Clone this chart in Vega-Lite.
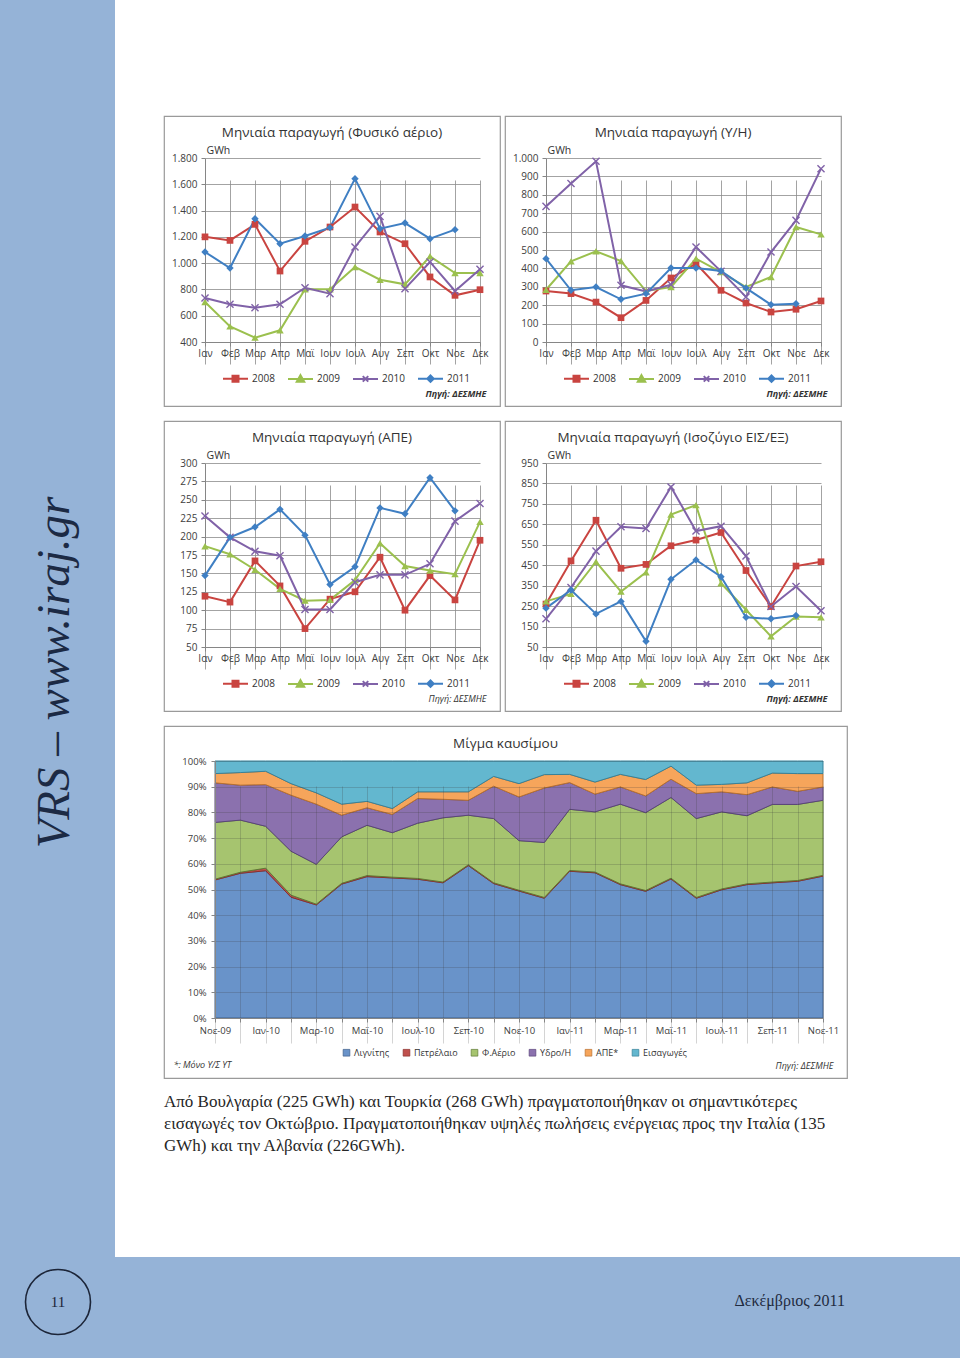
{
  "$schema": "https://vega.github.io/schema/vega-lite/v6.json",
  "padding": 0,
  "background": "white",
  "spacing": 0,
  "resolve": {"scale": {"color": "independent", "stroke": "independent"}, "legend": {"color": "independent"}},
  "config": {
    "locale": {"number": {"decimal": ",", "thousands": ".", "grouping": [3], "currency": ["", "€"]}},
    "view": {"stroke": null},
    "font": "Open Sans",
    "title": {"font": "Open Sans", "fontSize": 13.5, "fontWeight": "normal", "color": "#333333", "offset": -23, "baseline": "alphabetic", "frame": "group", "anchor": "middle"},
    "axis": {"labelFont": "Open Sans", "labelFontSize": 10, "labelColor": "#404040", "domainColor": "#868686", "tickColor": "#868686", "tickSize": 4, "gridColor": "#8c8c8c", "gridWidth": 0.8, "titleFont": "Open Sans", "titleFontWeight": "normal", "titleColor": "#333333", "titleFontSize": 10.5},
    "axisX": {"labelPadding": 2, "labelAngle": 0},
    "axisY": {"labelPadding": 4},
    "legend": {"labelFont": "Open Sans", "labelFontSize": 10, "labelColor": "#333333"}
  },
  "datasets": {
    "gas": [
      {"month":"Ιαν","year":"2008","v":1200},{"month":"Φεβ","year":"2008","v":1173},{"month":"Μαρ","year":"2008","v":1295},{"month":"Απρ","year":"2008","v":940},{"month":"Μαϊ","year":"2008","v":1166},{"month":"Ιουν","year":"2008","v":1275},{"month":"Ιουλ","year":"2008","v":1427},{"month":"Αυγ","year":"2008","v":1237},{"month":"Σεπ","year":"2008","v":1148},{"month":"Οκτ","year":"2008","v":895},{"month":"Νοε","year":"2008","v":755},{"month":"Δεκ","year":"2008","v":798},
      {"month":"Ιαν","year":"2009","v":704},{"month":"Φεβ","year":"2009","v":519},{"month":"Μαρ","year":"2009","v":433},{"month":"Απρ","year":"2009","v":489},{"month":"Μαϊ","year":"2009","v":801},{"month":"Ιουν","year":"2009","v":801},{"month":"Ιουλ","year":"2009","v":971},{"month":"Αυγ","year":"2009","v":874},{"month":"Σεπ","year":"2009","v":839},{"month":"Οκτ","year":"2009","v":1052},{"month":"Νοε","year":"2009","v":925},{"month":"Δεκ","year":"2009","v":925},
      {"month":"Ιαν","year":"2010","v":735},{"month":"Φεβ","year":"2010","v":687},{"month":"Μαρ","year":"2010","v":661},{"month":"Απρ","year":"2010","v":687},{"month":"Μαϊ","year":"2010","v":813},{"month":"Ιουν","year":"2010","v":768},{"month":"Ιουλ","year":"2010","v":1123},{"month":"Αυγ","year":"2010","v":1356},{"month":"Σεπ","year":"2010","v":806},{"month":"Οκτ","year":"2010","v":1009},{"month":"Νοε","year":"2010","v":788},{"month":"Δεκ","year":"2010","v":953},
      {"month":"Ιαν","year":"2011","v":1085},{"month":"Φεβ","year":"2011","v":963},{"month":"Μαρ","year":"2011","v":1338},{"month":"Απρ","year":"2011","v":1148},{"month":"Μαϊ","year":"2011","v":1207},{"month":"Ιουν","year":"2011","v":1270},{"month":"Ιουλ","year":"2011","v":1643},{"month":"Αυγ","year":"2011","v":1262},{"month":"Σεπ","year":"2011","v":1305},{"month":"Οκτ","year":"2011","v":1186},{"month":"Νοε","year":"2011","v":1255}
    ],
    "hydro": [
      {"month":"Ιαν","year":"2008","v":277},{"month":"Φεβ","year":"2008","v":263},{"month":"Μαρ","year":"2008","v":217},{"month":"Απρ","year":"2008","v":132},{"month":"Μαϊ","year":"2008","v":226},{"month":"Ιουν","year":"2008","v":348},{"month":"Ιουλ","year":"2008","v":426},{"month":"Αυγ","year":"2008","v":281},{"month":"Σεπ","year":"2008","v":212},{"month":"Οκτ","year":"2008","v":163},{"month":"Νοε","year":"2008","v":178},{"month":"Δεκ","year":"2008","v":223},
      {"month":"Ιαν","year":"2009","v":284},{"month":"Φεβ","year":"2009","v":438},{"month":"Μαρ","year":"2009","v":493},{"month":"Απρ","year":"2009","v":440},{"month":"Μαϊ","year":"2009","v":277},{"month":"Ιουν","year":"2009","v":299},{"month":"Ιουλ","year":"2009","v":453},{"month":"Αυγ","year":"2009","v":380},{"month":"Σεπ","year":"2009","v":299},{"month":"Οκτ","year":"2009","v":353},{"month":"Νοε","year":"2009","v":625},{"month":"Δεκ","year":"2009","v":585},
      {"month":"Ιαν","year":"2010","v":737},{"month":"Φεβ","year":"2010","v":861},{"month":"Μαρ","year":"2010","v":982},{"month":"Απρ","year":"2010","v":308},{"month":"Μαϊ","year":"2010","v":275},{"month":"Ιουν","year":"2010","v":312},{"month":"Ιουλ","year":"2010","v":516},{"month":"Αυγ","year":"2010","v":384},{"month":"Σεπ","year":"2010","v":245},{"month":"Οκτ","year":"2010","v":489},{"month":"Νοε","year":"2010","v":661},{"month":"Δεκ","year":"2010","v":942},
      {"month":"Ιαν","year":"2011","v":453},{"month":"Φεβ","year":"2011","v":281},{"month":"Μαρ","year":"2011","v":299},{"month":"Απρ","year":"2011","v":232},{"month":"Μαϊ","year":"2011","v":263},{"month":"Ιουν","year":"2011","v":402},{"month":"Ιουλ","year":"2011","v":402},{"month":"Αυγ","year":"2011","v":386},{"month":"Σεπ","year":"2011","v":293},{"month":"Οκτ","year":"2011","v":203},{"month":"Νοε","year":"2011","v":208}
    ],
    "res": [
      {"month":"Ιαν","year":"2008","v":119},{"month":"Φεβ","year":"2008","v":111},{"month":"Μαρ","year":"2008","v":167},{"month":"Απρ","year":"2008","v":133},{"month":"Μαϊ","year":"2008","v":75},{"month":"Ιουν","year":"2008","v":115},{"month":"Ιουλ","year":"2008","v":125},{"month":"Αυγ","year":"2008","v":172},{"month":"Σεπ","year":"2008","v":100},{"month":"Οκτ","year":"2008","v":147},{"month":"Νοε","year":"2008","v":114},{"month":"Δεκ","year":"2008","v":195},
      {"month":"Ιαν","year":"2009","v":187},{"month":"Φεβ","year":"2009","v":176},{"month":"Μαρ","year":"2009","v":155},{"month":"Απρ","year":"2009","v":129},{"month":"Μαϊ","year":"2009","v":113},{"month":"Ιουν","year":"2009","v":114},{"month":"Ιουλ","year":"2009","v":141},{"month":"Αυγ","year":"2009","v":191},{"month":"Σεπ","year":"2009","v":160},{"month":"Οκτ","year":"2009","v":154},{"month":"Νοε","year":"2009","v":149},{"month":"Δεκ","year":"2009","v":220},
      {"month":"Ιαν","year":"2010","v":228},{"month":"Φεβ","year":"2010","v":199},{"month":"Μαρ","year":"2010","v":180},{"month":"Απρ","year":"2010","v":174},{"month":"Μαϊ","year":"2010","v":101},{"month":"Ιουν","year":"2010","v":101},{"month":"Ιουλ","year":"2010","v":138},{"month":"Αυγ","year":"2010","v":148},{"month":"Σεπ","year":"2010","v":148},{"month":"Οκτ","year":"2010","v":163},{"month":"Νοε","year":"2010","v":221},{"month":"Δεκ","year":"2010","v":245},
      {"month":"Ιαν","year":"2011","v":147},{"month":"Φεβ","year":"2011","v":199},{"month":"Μαρ","year":"2011","v":213},{"month":"Απρ","year":"2011","v":237},{"month":"Μαϊ","year":"2011","v":202},{"month":"Ιουν","year":"2011","v":135},{"month":"Ιουλ","year":"2011","v":159},{"month":"Αυγ","year":"2011","v":239},{"month":"Σεπ","year":"2011","v":231},{"month":"Οκτ","year":"2011","v":280},{"month":"Νοε","year":"2011","v":235}
    ],
    "inter": [
      {"month":"Ιαν","year":"2008","v":260},{"month":"Φεβ","year":"2008","v":471},{"month":"Μαρ","year":"2008","v":670},{"month":"Απρ","year":"2008","v":435},{"month":"Μαϊ","year":"2008","v":454},{"month":"Ιουν","year":"2008","v":545},{"month":"Ιουλ","year":"2008","v":573},{"month":"Αυγ","year":"2008","v":610},{"month":"Σεπ","year":"2008","v":424},{"month":"Οκτ","year":"2008","v":248},{"month":"Νοε","year":"2008","v":446},{"month":"Δεκ","year":"2008","v":467},
      {"month":"Ιαν","year":"2009","v":273},{"month":"Φεβ","year":"2009","v":310},{"month":"Μαρ","year":"2009","v":467},{"month":"Απρ","year":"2009","v":321},{"month":"Μαϊ","year":"2009","v":415},{"month":"Ιουν","year":"2009","v":698},{"month":"Ιουλ","year":"2009","v":744},{"month":"Αυγ","year":"2009","v":362},{"month":"Σεπ","year":"2009","v":232},{"month":"Οκτ","year":"2009","v":102},{"month":"Νοε","year":"2009","v":199},{"month":"Δεκ","year":"2009","v":195},
      {"month":"Ιαν","year":"2010","v":188},{"month":"Φεβ","year":"2010","v":341},{"month":"Μαρ","year":"2010","v":519},{"month":"Απρ","year":"2010","v":638},{"month":"Μαϊ","year":"2010","v":630},{"month":"Ιουν","year":"2010","v":833},{"month":"Ιουλ","year":"2010","v":617},{"month":"Αυγ","year":"2010","v":641},{"month":"Σεπ","year":"2010","v":495},{"month":"Οκτ","year":"2010","v":248},{"month":"Νοε","year":"2010","v":346},{"month":"Δεκ","year":"2010","v":227},
      {"month":"Ιαν","year":"2011","v":240},{"month":"Φεβ","year":"2011","v":329},{"month":"Μαρ","year":"2011","v":212},{"month":"Απρ","year":"2011","v":273},{"month":"Μαϊ","year":"2011","v":78},{"month":"Ιουν","year":"2011","v":381},{"month":"Ιουλ","year":"2011","v":476},{"month":"Αυγ","year":"2011","v":394},{"month":"Σεπ","year":"2011","v":195},{"month":"Οκτ","year":"2011","v":188},{"month":"Νοε","year":"2011","v":204}
    ],
    "mix": [
      {"month":"Νοε-09","fuel":"Λιγνίτης","k":1,"v":53.7},{"month":"Δεκ-09","fuel":"Λιγνίτης","k":1,"v":56.3},{"month":"Ιαν-10","fuel":"Λιγνίτης","k":1,"v":57.3},{"month":"Φεβ-10","fuel":"Λιγνίτης","k":1,"v":47.0},{"month":"Μαρ-10","fuel":"Λιγνίτης","k":1,"v":44.0},{"month":"Απρ-10","fuel":"Λιγνίτης","k":1,"v":52.1},{"month":"Μαϊ-10","fuel":"Λιγνίτης","k":1,"v":55.0},{"month":"Ιουν-10","fuel":"Λιγνίτης","k":1,"v":54.5},{"month":"Ιουλ-10","fuel":"Λιγνίτης","k":1,"v":54.0},{"month":"Αυγ-10","fuel":"Λιγνίτης","k":1,"v":52.6},{"month":"Σεπ-10","fuel":"Λιγνίτης","k":1,"v":59.3},{"month":"Οκτ-10","fuel":"Λιγνίτης","k":1,"v":52.3},{"month":"Νοε-10","fuel":"Λιγνίτης","k":1,"v":49.4},{"month":"Δεκ-10","fuel":"Λιγνίτης","k":1,"v":46.6},{"month":"Ιαν-11","fuel":"Λιγνίτης","k":1,"v":57.1},{"month":"Φεβ-11","fuel":"Λιγνίτης","k":1,"v":56.5},{"month":"Μαρ-11","fuel":"Λιγνίτης","k":1,"v":51.9},{"month":"Απρ-11","fuel":"Λιγνίτης","k":1,"v":49.3},{"month":"Μαϊ-11","fuel":"Λιγνίτης","k":1,"v":54.1},{"month":"Ιουν-11","fuel":"Λιγνίτης","k":1,"v":46.6},{"month":"Ιουλ-11","fuel":"Λιγνίτης","k":1,"v":49.9},{"month":"Αυγ-11","fuel":"Λιγνίτης","k":1,"v":51.9},{"month":"Σεπ-11","fuel":"Λιγνίτης","k":1,"v":52.6},{"month":"Οκτ-11","fuel":"Λιγνίτης","k":1,"v":53.2},{"month":"Νοε-11","fuel":"Λιγνίτης","k":1,"v":55.2},
      {"month":"Νοε-09","fuel":"Πετρέλαιο","k":2,"v":0.3},{"month":"Δεκ-09","fuel":"Πετρέλαιο","k":2,"v":0.4},{"month":"Ιαν-10","fuel":"Πετρέλαιο","k":2,"v":1.0},{"month":"Φεβ-10","fuel":"Πετρέλαιο","k":2,"v":0.8},{"month":"Μαρ-10","fuel":"Πετρέλαιο","k":2,"v":0.3},{"month":"Απρ-10","fuel":"Πετρέλαιο","k":2,"v":0.3},{"month":"Μαϊ-10","fuel":"Πετρέλαιο","k":2,"v":0.4},{"month":"Ιουν-10","fuel":"Πετρέλαιο","k":2,"v":0.3},{"month":"Ιουλ-10","fuel":"Πετρέλαιο","k":2,"v":0.3},{"month":"Αυγ-10","fuel":"Πετρέλαιο","k":2,"v":0.3},{"month":"Σεπ-10","fuel":"Πετρέλαιο","k":2,"v":0.3},{"month":"Οκτ-10","fuel":"Πετρέλαιο","k":2,"v":0.3},{"month":"Νοε-10","fuel":"Πετρέλαιο","k":2,"v":0.3},{"month":"Δεκ-10","fuel":"Πετρέλαιο","k":2,"v":0.3},{"month":"Ιαν-11","fuel":"Πετρέλαιο","k":2,"v":0.3},{"month":"Φεβ-11","fuel":"Πετρέλαιο","k":2,"v":0.3},{"month":"Μαρ-11","fuel":"Πετρέλαιο","k":2,"v":0.3},{"month":"Απρ-11","fuel":"Πετρέλαιο","k":2,"v":0.3},{"month":"Μαϊ-11","fuel":"Πετρέλαιο","k":2,"v":0.3},{"month":"Ιουν-11","fuel":"Πετρέλαιο","k":2,"v":0.3},{"month":"Ιουλ-11","fuel":"Πετρέλαιο","k":2,"v":0.3},{"month":"Αυγ-11","fuel":"Πετρέλαιο","k":2,"v":0.3},{"month":"Σεπ-11","fuel":"Πετρέλαιο","k":2,"v":0.3},{"month":"Οκτ-11","fuel":"Πετρέλαιο","k":2,"v":0.3},{"month":"Νοε-11","fuel":"Πετρέλαιο","k":2,"v":0.3},
      {"month":"Νοε-09","fuel":"Φ.Αέριο","k":3,"v":22.1},{"month":"Δεκ-09","fuel":"Φ.Αέριο","k":3,"v":20.3},{"month":"Ιαν-10","fuel":"Φ.Αέριο","k":3,"v":16.3},{"month":"Φεβ-10","fuel":"Φ.Αέριο","k":3,"v":17.1},{"month":"Μαρ-10","fuel":"Φ.Αέριο","k":3,"v":15.5},{"month":"Απρ-10","fuel":"Φ.Αέριο","k":3,"v":18.1},{"month":"Μαϊ-10","fuel":"Φ.Αέριο","k":3,"v":19.6},{"month":"Ιουν-10","fuel":"Φ.Αέριο","k":3,"v":17.3},{"month":"Ιουλ-10","fuel":"Φ.Αέριο","k":3,"v":21.5},{"month":"Αυγ-10","fuel":"Φ.Αέριο","k":3,"v":25.0},{"month":"Σεπ-10","fuel":"Φ.Αέριο","k":3,"v":19.3},{"month":"Οκτ-10","fuel":"Φ.Αέριο","k":3,"v":25.0},{"month":"Νοε-10","fuel":"Φ.Αέριο","k":3,"v":19.3},{"month":"Δεκ-10","fuel":"Φ.Αέριο","k":3,"v":21.4},{"month":"Ιαν-11","fuel":"Φ.Αέριο","k":3,"v":23.8},{"month":"Φεβ-11","fuel":"Φ.Αέριο","k":3,"v":23.4},{"month":"Μαρ-11","fuel":"Φ.Αέριο","k":3,"v":31.0},{"month":"Απρ-11","fuel":"Φ.Αέριο","k":3,"v":30.3},{"month":"Μαϊ-11","fuel":"Φ.Αέριο","k":3,"v":31.4},{"month":"Ιουν-11","fuel":"Φ.Αέριο","k":3,"v":30.7},{"month":"Ιουλ-11","fuel":"Φ.Αέριο","k":3,"v":30.0},{"month":"Αυγ-11","fuel":"Φ.Αέριο","k":3,"v":26.5},{"month":"Σεπ-11","fuel":"Φ.Αέριο","k":3,"v":30.2},{"month":"Οκτ-11","fuel":"Φ.Αέριο","k":3,"v":29.6},{"month":"Νοε-11","fuel":"Φ.Αέριο","k":3,"v":29.2},
      {"month":"Νοε-09","fuel":"Υδρο/Η","k":4,"v":15.4},{"month":"Δεκ-09","fuel":"Υδρο/Η","k":4,"v":13.6},{"month":"Ιαν-10","fuel":"Υδρο/Η","k":4,"v":16.2},{"month":"Φεβ-10","fuel":"Υδρο/Η","k":4,"v":21.8},{"month":"Μαρ-10","fuel":"Υδρο/Η","k":4,"v":23.4},{"month":"Απρ-10","fuel":"Υδρο/Η","k":4,"v":8.4},{"month":"Μαϊ-10","fuel":"Υδρο/Η","k":4,"v":6.8},{"month":"Ιουν-10","fuel":"Υδρο/Η","k":4,"v":7.1},{"month":"Ιουλ-10","fuel":"Υδρο/Η","k":4,"v":9.6},{"month":"Αυγ-10","fuel":"Υδρο/Η","k":4,"v":7.2},{"month":"Σεπ-10","fuel":"Υδρο/Η","k":4,"v":5.8},{"month":"Οκτ-10","fuel":"Υδρο/Η","k":4,"v":12.6},{"month":"Νοε-10","fuel":"Υδρο/Η","k":4,"v":17.0},{"month":"Δεκ-10","fuel":"Υδρο/Η","k":4,"v":21.2},{"month":"Ιαν-11","fuel":"Υδρο/Η","k":4,"v":10.4},{"month":"Φεβ-11","fuel":"Υδρο/Η","k":4,"v":6.9},{"month":"Μαρ-11","fuel":"Υδρο/Η","k":4,"v":6.7},{"month":"Απρ-11","fuel":"Υδρο/Η","k":4,"v":6.5},{"month":"Μαϊ-11","fuel":"Υδρο/Η","k":4,"v":7.1},{"month":"Ιουν-11","fuel":"Υδρο/Η","k":4,"v":9.7},{"month":"Ιουλ-11","fuel":"Υδρο/Η","k":4,"v":7.8},{"month":"Αυγ-11","fuel":"Υδρο/Η","k":4,"v":8.2},{"month":"Σεπ-11","fuel":"Υδρο/Η","k":4,"v":6.8},{"month":"Οκτ-11","fuel":"Υδρο/Η","k":4,"v":5.1},{"month":"Νοε-11","fuel":"Υδρο/Η","k":4,"v":5.2},
      {"month":"Νοε-09","fuel":"ΑΠΕ*","k":5,"v":3.6},{"month":"Δεκ-09","fuel":"ΑΠΕ*","k":5,"v":4.9},{"month":"Ιαν-10","fuel":"ΑΠΕ*","k":5,"v":5.2},{"month":"Φεβ-10","fuel":"ΑΠΕ*","k":5,"v":4.5},{"month":"Μαρ-10","fuel":"ΑΠΕ*","k":5,"v":4.4},{"month":"Απρ-10","fuel":"ΑΠΕ*","k":5,"v":4.3},{"month":"Μαϊ-10","fuel":"ΑΠΕ*","k":5,"v":2.5},{"month":"Ιουν-10","fuel":"ΑΠΕ*","k":5,"v":2.3},{"month":"Ιουλ-10","fuel":"ΑΠΕ*","k":5,"v":2.6},{"month":"Αυγ-10","fuel":"ΑΠΕ*","k":5,"v":2.9},{"month":"Σεπ-10","fuel":"ΑΠΕ*","k":5,"v":3.3},{"month":"Οκτ-10","fuel":"ΑΠΕ*","k":5,"v":3.8},{"month":"Νοε-10","fuel":"ΑΠΕ*","k":5,"v":5.2},{"month":"Δεκ-10","fuel":"ΑΠΕ*","k":5,"v":5.2},{"month":"Ιαν-11","fuel":"ΑΠΕ*","k":5,"v":3.2},{"month":"Φεβ-11","fuel":"ΑΠΕ*","k":5,"v":4.7},{"month":"Μαρ-11","fuel":"ΑΠΕ*","k":5,"v":4.9},{"month":"Απρ-11","fuel":"ΑΠΕ*","k":5,"v":6.4},{"month":"Μαϊ-11","fuel":"ΑΠΕ*","k":5,"v":5.1},{"month":"Ιουν-11","fuel":"ΑΠΕ*","k":5,"v":3.3},{"month":"Ιουλ-11","fuel":"ΑΠΕ*","k":5,"v":2.9},{"month":"Αυγ-11","fuel":"ΑΠΕ*","k":5,"v":4.6},{"month":"Σεπ-11","fuel":"ΑΠΕ*","k":5,"v":5.4},{"month":"Οκτ-11","fuel":"ΑΠΕ*","k":5,"v":6.9},{"month":"Νοε-11","fuel":"ΑΠΕ*","k":5,"v":5.2},
      {"month":"Νοε-09","fuel":"Εισαγωγές","k":6,"v":4.9},{"month":"Δεκ-09","fuel":"Εισαγωγές","k":6,"v":4.5},{"month":"Ιαν-10","fuel":"Εισαγωγές","k":6,"v":4.0},{"month":"Φεβ-10","fuel":"Εισαγωγές","k":6,"v":8.8},{"month":"Μαρ-10","fuel":"Εισαγωγές","k":6,"v":12.4},{"month":"Απρ-10","fuel":"Εισαγωγές","k":6,"v":16.8},{"month":"Μαϊ-10","fuel":"Εισαγωγές","k":6,"v":15.7},{"month":"Ιουν-10","fuel":"Εισαγωγές","k":6,"v":18.5},{"month":"Ιουλ-10","fuel":"Εισαγωγές","k":6,"v":12.0},{"month":"Αυγ-10","fuel":"Εισαγωγές","k":6,"v":12.0},{"month":"Σεπ-10","fuel":"Εισαγωγές","k":6,"v":12.0},{"month":"Οκτ-10","fuel":"Εισαγωγές","k":6,"v":6.0},{"month":"Νοε-10","fuel":"Εισαγωγές","k":6,"v":8.8},{"month":"Δεκ-10","fuel":"Εισαγωγές","k":6,"v":5.3},{"month":"Ιαν-11","fuel":"Εισαγωγές","k":6,"v":5.2},{"month":"Φεβ-11","fuel":"Εισαγωγές","k":6,"v":8.2},{"month":"Μαρ-11","fuel":"Εισαγωγές","k":6,"v":5.2},{"month":"Απρ-11","fuel":"Εισαγωγές","k":6,"v":7.2},{"month":"Μαϊ-11","fuel":"Εισαγωγές","k":6,"v":2.0},{"month":"Ιουν-11","fuel":"Εισαγωγές","k":6,"v":9.4},{"month":"Ιουλ-11","fuel":"Εισαγωγές","k":6,"v":9.1},{"month":"Αυγ-11","fuel":"Εισαγωγές","k":6,"v":8.5},{"month":"Σεπ-11","fuel":"Εισαγωγές","k":6,"v":4.7},{"month":"Οκτ-11","fuel":"Εισαγωγές","k":6,"v":4.9},{"month":"Νοε-11","fuel":"Εισαγωγές","k":6,"v":4.9}
    ],
    "para": [
      {"line": 1, "text": "Από Βουλγαρία (225 GWh) και Τουρκία (268 GWh) πραγματοποιήθηκαν οι σημαντικότερες"},
      {"line": 2, "text": "εισαγωγές τον Οκτώβριο. Πραγματοποιήθηκαν υψηλές πωλήσεις ενέργειας προς την Ιταλία (135"},
      {"line": 3, "text": "GWh) και την Αλβανία (226GWh)."}
    ],
    "footer": [{"page": "11", "date": "Δεκέμβριος 2011"}]
  },
  "vconcat": [
    {
      "spacing": 48,
      "resolve": {"scale": {"color": "independent", "stroke": "independent"}, "legend": {"color": "independent"}},
      "hconcat": [
        {
          "width": 115,
          "height": 1257,
          "view": {"fill": "#95B3D7", "stroke": null},
          "title": {"text": "VRS – www.iraj.gr", "orient": "left", "anchor": "middle", "frame": "group", "offset": -72, "baseline": "alphabetic", "font": "Liberation Serif", "fontStyle": "italic", "fontWeight": "normal", "fontSize": 47, "color": "#1c2a44", "dx": -44, "dy": 44},
          "data": {"values": [{}]},
          "mark": {"type": "text", "text": " "}
        },
        {
          "spacing": 13,
          "resolve": {"scale": {"color": "independent", "stroke": "independent"}, "legend": {"color": "independent"}},
          "vconcat": [
            {"width": 10, "height": 102, "data": {"values": [{}]}, "mark": {"type": "text", "text": " "}},
            {
              "spacing": 3,
              "resolve": {"scale": {"color": "independent", "stroke": "independent"}, "legend": {"color": "independent"}},
              "hconcat": [
                {
                  "width": 336, "height": 290,
                  "view": {"stroke": "#9a9a9a", "strokeWidth": 1.2, "fill": "white"},
                  "data": {"name": "gas"},
                  "title": {"text": "Μηνιαία παραγωγή (Φυσικό αέριο)"},
                  "encoding": {
                    "x": {"field": "month", "type": "ordinal", "sort": ["Ιαν","Φεβ","Μαρ","Απρ","Μαϊ","Ιουν","Ιουλ","Αυγ","Σεπ","Οκτ","Νοε","Δεκ"], "scale": {"type": "point", "range": [41, 316], "padding": 0},
                      "axis": {"offset": -64, "grid": true, "title": "Πηγή: ΔΕΣΜΗΕ", "titleX": 322, "titleY": 51, "titleAlign": "right", "titleAnchor": "end", "titleBaseline": "middle", "titleFontStyle": "italic", "titleFontWeight": "bold", "titleFontSize": 9}},
                    "y": {"field": "v", "type": "quantitative", "scale": {"domain": [400, 1800], "range": [226, 42], "nice": false, "zero": false},
                      "axis": {"offset": -41, "values": [400,600,800,1000,1200,1400,1600,1800], "format": ",d", "title": "GWh", "titleAngle": 0, "titleX": 1, "titleY": 34, "titleAlign": "left", "titleAnchor": "end", "titleBaseline": "middle"}}
                  },
                  "layer": [
                    {"mark": {"type": "line", "strokeWidth": 2},
                      "encoding": {"color": {"field": "year", "type": "nominal", "scale": {"domain": ["2008","2009","2010","2011"], "range": ["#C94440","#9BC04E","#8062A8","#3F7FC3"]},
                        "legend": {"orient": "none", "legendX": 58, "legendY": 249, "direction": "horizontal", "title": null, "symbolType": "stroke", "symbolSize": 625, "symbolStrokeWidth": 2, "labelOffset": 3, "columnPadding": 9,
                          "encode": {"symbols": {"update": {
                            "shape": {"signal": "datum.value === '2008' ? 'M-1,0H1M-0.24,-0.24H0.24V0.24H-0.24Z' : datum.value === '2009' ? 'M-1,0H1M0,-0.3L0.3,0.22H-0.3Z' : datum.value === '2010' ? 'M-1,0H1M-0.22,-0.22L0.22,0.22M-0.22,0.22L0.22,-0.22' : 'M-1,0H1M0,-0.26L0.26,0L0,0.26L-0.26,0Z'"},
                            "fill": {"signal": "datum.value === '2008' ? '#C94440' : datum.value === '2009' ? '#9BC04E' : datum.value === '2010' ? '#8062A8' : '#3F7FC3'"},
                            "stroke": {"signal": "datum.value === '2008' ? '#C94440' : datum.value === '2009' ? '#9BC04E' : datum.value === '2010' ? '#8062A8' : '#3F7FC3'"}
                          }}}}}}},
                    {"transform": [{"filter": "datum.year === '2008'"}], "mark": {"type": "point", "shape": "square", "filled": true, "color": "#C94440", "size": 45, "opacity": 1}},
                    {"transform": [{"filter": "datum.year === '2009'"}], "mark": {"type": "point", "shape": "triangle-up", "filled": true, "color": "#9BC04E", "size": 55, "opacity": 1}},
                    {"transform": [{"filter": "datum.year === '2010'"}], "mark": {"type": "point", "shape": "M-1,-1L1,1M-1,1L1,-1", "filled": false, "color": "#8062A8", "size": 50, "strokeWidth": 1.4, "opacity": 1}},
                    {"transform": [{"filter": "datum.year === '2011'"}], "mark": {"type": "point", "shape": "diamond", "filled": true, "color": "#3F7FC3", "size": 55, "opacity": 1}}
                  ]
                },
                {
                  "width": 336, "height": 290,
                  "view": {"stroke": "#9a9a9a", "strokeWidth": 1.2, "fill": "white"},
                  "data": {"name": "hydro"},
                  "title": {"text": "Μηνιαία παραγωγή (Υ/Η)"},
                  "encoding": {
                    "x": {"field": "month", "type": "ordinal", "sort": ["Ιαν","Φεβ","Μαρ","Απρ","Μαϊ","Ιουν","Ιουλ","Αυγ","Σεπ","Οκτ","Νοε","Δεκ"], "scale": {"type": "point", "range": [41, 316], "padding": 0},
                      "axis": {"offset": -64, "grid": true, "title": "Πηγή: ΔΕΣΜΗΕ", "titleX": 322, "titleY": 51, "titleAlign": "right", "titleAnchor": "end", "titleBaseline": "middle", "titleFontStyle": "italic", "titleFontWeight": "bold", "titleFontSize": 9}},
                    "y": {"field": "v", "type": "quantitative", "scale": {"domain": [0, 1000], "range": [226, 42], "nice": false, "zero": false},
                      "axis": {"offset": -41, "values": [0,100,200,300,400,500,600,700,800,900,1000], "format": ",d", "title": "GWh", "titleAngle": 0, "titleX": 1, "titleY": 34, "titleAlign": "left", "titleAnchor": "end", "titleBaseline": "middle"}}
                  },
                  "layer": [
                    {"mark": {"type": "line", "strokeWidth": 2},
                      "encoding": {"color": {"field": "year", "type": "nominal", "scale": {"domain": ["2008","2009","2010","2011"], "range": ["#C94440","#9BC04E","#8062A8","#3F7FC3"]},
                        "legend": {"orient": "none", "legendX": 58, "legendY": 249, "direction": "horizontal", "title": null, "symbolType": "stroke", "symbolSize": 625, "symbolStrokeWidth": 2, "labelOffset": 3, "columnPadding": 9,
                          "encode": {"symbols": {"update": {
                            "shape": {"signal": "datum.value === '2008' ? 'M-1,0H1M-0.24,-0.24H0.24V0.24H-0.24Z' : datum.value === '2009' ? 'M-1,0H1M0,-0.3L0.3,0.22H-0.3Z' : datum.value === '2010' ? 'M-1,0H1M-0.22,-0.22L0.22,0.22M-0.22,0.22L0.22,-0.22' : 'M-1,0H1M0,-0.26L0.26,0L0,0.26L-0.26,0Z'"},
                            "fill": {"signal": "datum.value === '2008' ? '#C94440' : datum.value === '2009' ? '#9BC04E' : datum.value === '2010' ? '#8062A8' : '#3F7FC3'"},
                            "stroke": {"signal": "datum.value === '2008' ? '#C94440' : datum.value === '2009' ? '#9BC04E' : datum.value === '2010' ? '#8062A8' : '#3F7FC3'"}
                          }}}}}}},
                    {"transform": [{"filter": "datum.year === '2008'"}], "mark": {"type": "point", "shape": "square", "filled": true, "color": "#C94440", "size": 45, "opacity": 1}},
                    {"transform": [{"filter": "datum.year === '2009'"}], "mark": {"type": "point", "shape": "triangle-up", "filled": true, "color": "#9BC04E", "size": 55, "opacity": 1}},
                    {"transform": [{"filter": "datum.year === '2010'"}], "mark": {"type": "point", "shape": "M-1,-1L1,1M-1,1L1,-1", "filled": false, "color": "#8062A8", "size": 50, "strokeWidth": 1.4, "opacity": 1}},
                    {"transform": [{"filter": "datum.year === '2011'"}], "mark": {"type": "point", "shape": "diamond", "filled": true, "color": "#3F7FC3", "size": 55, "opacity": 1}}
                  ]
                }
              ]
            },
            {
              "spacing": 3,
              "resolve": {"scale": {"color": "independent", "stroke": "independent"}, "legend": {"color": "independent"}},
              "hconcat": [
                {
                  "width": 336, "height": 290,
                  "view": {"stroke": "#9a9a9a", "strokeWidth": 1.2, "fill": "white"},
                  "data": {"name": "res"},
                  "title": {"text": "Μηνιαία παραγωγή (ΑΠΕ)"},
                  "encoding": {
                    "x": {"field": "month", "type": "ordinal", "sort": ["Ιαν","Φεβ","Μαρ","Απρ","Μαϊ","Ιουν","Ιουλ","Αυγ","Σεπ","Οκτ","Νοε","Δεκ"], "scale": {"type": "point", "range": [41, 316], "padding": 0},
                      "axis": {"offset": -64, "grid": true, "title": "Πηγή: ΔΕΣΜΗΕ", "titleX": 322, "titleY": 51, "titleAlign": "right", "titleAnchor": "end", "titleBaseline": "middle", "titleFontStyle": "italic", "titleFontWeight": "normal", "titleFontSize": 9}},
                    "y": {"field": "v", "type": "quantitative", "scale": {"domain": [50, 300], "range": [226, 42], "nice": false, "zero": false},
                      "axis": {"offset": -41, "values": [50,75,100,125,150,175,200,225,250,275,300], "format": ",d", "title": "GWh", "titleAngle": 0, "titleX": 1, "titleY": 34, "titleAlign": "left", "titleAnchor": "end", "titleBaseline": "middle"}}
                  },
                  "layer": [
                    {"mark": {"type": "line", "strokeWidth": 2},
                      "encoding": {"color": {"field": "year", "type": "nominal", "scale": {"domain": ["2008","2009","2010","2011"], "range": ["#C94440","#9BC04E","#8062A8","#3F7FC3"]},
                        "legend": {"orient": "none", "legendX": 58, "legendY": 249, "direction": "horizontal", "title": null, "symbolType": "stroke", "symbolSize": 625, "symbolStrokeWidth": 2, "labelOffset": 3, "columnPadding": 9,
                          "encode": {"symbols": {"update": {
                            "shape": {"signal": "datum.value === '2008' ? 'M-1,0H1M-0.24,-0.24H0.24V0.24H-0.24Z' : datum.value === '2009' ? 'M-1,0H1M0,-0.3L0.3,0.22H-0.3Z' : datum.value === '2010' ? 'M-1,0H1M-0.22,-0.22L0.22,0.22M-0.22,0.22L0.22,-0.22' : 'M-1,0H1M0,-0.26L0.26,0L0,0.26L-0.26,0Z'"},
                            "fill": {"signal": "datum.value === '2008' ? '#C94440' : datum.value === '2009' ? '#9BC04E' : datum.value === '2010' ? '#8062A8' : '#3F7FC3'"},
                            "stroke": {"signal": "datum.value === '2008' ? '#C94440' : datum.value === '2009' ? '#9BC04E' : datum.value === '2010' ? '#8062A8' : '#3F7FC3'"}
                          }}}}}}},
                    {"transform": [{"filter": "datum.year === '2008'"}], "mark": {"type": "point", "shape": "square", "filled": true, "color": "#C94440", "size": 45, "opacity": 1}},
                    {"transform": [{"filter": "datum.year === '2009'"}], "mark": {"type": "point", "shape": "triangle-up", "filled": true, "color": "#9BC04E", "size": 55, "opacity": 1}},
                    {"transform": [{"filter": "datum.year === '2010'"}], "mark": {"type": "point", "shape": "M-1,-1L1,1M-1,1L1,-1", "filled": false, "color": "#8062A8", "size": 50, "strokeWidth": 1.4, "opacity": 1}},
                    {"transform": [{"filter": "datum.year === '2011'"}], "mark": {"type": "point", "shape": "diamond", "filled": true, "color": "#3F7FC3", "size": 55, "opacity": 1}}
                  ]
                },
                {
                  "width": 336, "height": 290,
                  "view": {"stroke": "#9a9a9a", "strokeWidth": 1.2, "fill": "white"},
                  "data": {"name": "inter"},
                  "title": {"text": "Μηνιαία παραγωγή (Ισοζύγιο ΕΙΣ/ΕΞ)"},
                  "encoding": {
                    "x": {"field": "month", "type": "ordinal", "sort": ["Ιαν","Φεβ","Μαρ","Απρ","Μαϊ","Ιουν","Ιουλ","Αυγ","Σεπ","Οκτ","Νοε","Δεκ"], "scale": {"type": "point", "range": [41, 316], "padding": 0},
                      "axis": {"offset": -64, "grid": true, "title": "Πηγή: ΔΕΣΜΗΕ", "titleX": 322, "titleY": 51, "titleAlign": "right", "titleAnchor": "end", "titleBaseline": "middle", "titleFontStyle": "italic", "titleFontWeight": "bold", "titleFontSize": 9}},
                    "y": {"field": "v", "type": "quantitative", "scale": {"domain": [50, 950], "range": [226, 42], "nice": false, "zero": false},
                      "axis": {"offset": -41, "values": [50,150,250,350,450,550,650,750,850,950], "format": ",d", "title": "GWh", "titleAngle": 0, "titleX": 1, "titleY": 34, "titleAlign": "left", "titleAnchor": "end", "titleBaseline": "middle"}}
                  },
                  "layer": [
                    {"mark": {"type": "line", "strokeWidth": 2},
                      "encoding": {"color": {"field": "year", "type": "nominal", "scale": {"domain": ["2008","2009","2010","2011"], "range": ["#C94440","#9BC04E","#8062A8","#3F7FC3"]},
                        "legend": {"orient": "none", "legendX": 58, "legendY": 249, "direction": "horizontal", "title": null, "symbolType": "stroke", "symbolSize": 625, "symbolStrokeWidth": 2, "labelOffset": 3, "columnPadding": 9,
                          "encode": {"symbols": {"update": {
                            "shape": {"signal": "datum.value === '2008' ? 'M-1,0H1M-0.24,-0.24H0.24V0.24H-0.24Z' : datum.value === '2009' ? 'M-1,0H1M0,-0.3L0.3,0.22H-0.3Z' : datum.value === '2010' ? 'M-1,0H1M-0.22,-0.22L0.22,0.22M-0.22,0.22L0.22,-0.22' : 'M-1,0H1M0,-0.26L0.26,0L0,0.26L-0.26,0Z'"},
                            "fill": {"signal": "datum.value === '2008' ? '#C94440' : datum.value === '2009' ? '#9BC04E' : datum.value === '2010' ? '#8062A8' : '#3F7FC3'"},
                            "stroke": {"signal": "datum.value === '2008' ? '#C94440' : datum.value === '2009' ? '#9BC04E' : datum.value === '2010' ? '#8062A8' : '#3F7FC3'"}
                          }}}}}}},
                    {"transform": [{"filter": "datum.year === '2008'"}], "mark": {"type": "point", "shape": "square", "filled": true, "color": "#C94440", "size": 45, "opacity": 1}},
                    {"transform": [{"filter": "datum.year === '2009'"}], "mark": {"type": "point", "shape": "triangle-up", "filled": true, "color": "#9BC04E", "size": 55, "opacity": 1}},
                    {"transform": [{"filter": "datum.year === '2010'"}], "mark": {"type": "point", "shape": "M-1,-1L1,1M-1,1L1,-1", "filled": false, "color": "#8062A8", "size": 50, "strokeWidth": 1.4, "opacity": 1}},
                    {"transform": [{"filter": "datum.year === '2011'"}], "mark": {"type": "point", "shape": "diamond", "filled": true, "color": "#3F7FC3", "size": 55, "opacity": 1}}
                  ]
                }
              ]
            },
            {
              "width": 683, "height": 352,
              "view": {"stroke": "#9a9a9a", "strokeWidth": 1.2, "fill": "white"},
              "data": {"name": "mix"},
              "title": {"text": "Μίγμα καυσίμου", "offset": -24},
              "mark": {"type": "area", "interpolate": "linear", "strokeWidth": 1, "opacity": 1},
              "encoding": {
                "x": {"field": "month", "type": "ordinal", "sort": ["Νοε-09","Δεκ-09","Ιαν-10","Φεβ-10","Μαρ-10","Απρ-10","Μαϊ-10","Ιουν-10","Ιουλ-10","Αυγ-10","Σεπ-10","Οκτ-10","Νοε-10","Δεκ-10","Ιαν-11","Φεβ-11","Μαρ-11","Απρ-11","Μαϊ-11","Ιουν-11","Ιουλ-11","Αυγ-11","Σεπ-11","Οκτ-11","Νοε-11"],
                  "scale": {"type": "point", "range": [51, 659], "padding": 0},
                  "axis": {"offset": -60, "grid": true, "zindex": 1, "gridColor": "#3a3a3a", "gridOpacity": 0.28, "gridWidth": 0.8, "labelFontSize": 9.5, "labelPadding": 3, "labelExpr": "round(datum.index * 24) % 2 === 0 ? datum.label : ''",
                    "title": "Πηγή: ΔΕΣΜΗΕ", "titleX": 669, "titleY": 47, "titleAlign": "right", "titleAnchor": "end", "titleBaseline": "middle", "titleFontStyle": "italic", "titleFontSize": 9}},
                "y": {"field": "v", "type": "quantitative", "stack": "zero", "scale": {"domain": [0, 100], "range": [292, 35], "nice": false},
                  "axis": {"offset": -51, "values": [0,10,20,30,40,50,60,70,80,90,100], "labelExpr": "datum.value + '%'", "zindex": 1, "gridColor": "#3a3a3a", "gridOpacity": 0.28, "gridWidth": 0.8, "labelFontSize": 9.5, "labelPadding": 5,
                    "title": "*: Μόνο Υ/Σ ΥΤ", "titleAngle": 0, "titleX": -42, "titleY": 338, "titleAlign": "left", "titleAnchor": "end", "titleBaseline": "middle", "titleFontStyle": "italic", "titleFontSize": 9}},
                "color": {"field": "fuel", "type": "nominal",
                  "scale": {"domain": ["Λιγνίτης","Πετρέλαιο","Φ.Αέριο","Υδρο/Η","ΑΠΕ*","Εισαγωγές"], "range": ["#6993C9","#C0504D","#A6C46F","#8B71AE","#F6A55B","#63B7CF"]},
                  "legend": {"orient": "none", "legendX": 178, "legendY": 322, "direction": "horizontal", "title": null, "symbolType": "square", "symbolSize": 45, "symbolStrokeColor": "#6f6f6f", "symbolStrokeWidth": 0.7, "labelFontSize": 9, "labelOffset": 3, "columnPadding": 11}},
                "stroke": {"field": "fuel", "type": "nominal",
                  "scale": {"domain": ["Λιγνίτης","Πετρέλαιο","Φ.Αέριο","Υδρο/Η","ΑΠΕ*","Εισαγωγές"], "range": ["#3f5f8a","#8b2f2d","#5f7a36","#5a447a","#b8702f","#37829a"]}, "legend": null},
                "order": {"field": "k", "type": "quantitative"}
              }
            },
            {
              "width": 690, "height": 66,
              "data": {"name": "para"},
              "mark": {"type": "text", "align": "left", "baseline": "alphabetic", "font": "Liberation Serif", "fontSize": 17, "color": "#262626", "dy": 4},
              "encoding": {
                "x": {"value": 0},
                "y": {"field": "line", "type": "ordinal", "axis": null, "scale": {"type": "point"}},
                "text": {"field": "text"}
              }
            }
          ]
        }
      ]
    },
    {
      "width": 960, "height": 101,
      "view": {"fill": "#95B3D7", "stroke": null},
      "data": {"name": "footer"},
      "layer": [
        {"mark": {"type": "point", "shape": "circle", "size": 4225, "filled": false, "stroke": "#1c2538", "strokeWidth": 1.6, "opacity": 1},
          "encoding": {"x": {"value": 58}, "y": {"value": 45}}},
        {"mark": {"type": "text", "font": "Liberation Serif", "fontSize": 15, "color": "#1c2538", "align": "center", "baseline": "middle"},
          "encoding": {"x": {"value": 58}, "y": {"value": 45}, "text": {"field": "page"}}},
        {"mark": {"type": "text", "font": "Liberation Serif", "fontSize": 16, "color": "#1f2b40", "align": "right", "baseline": "alphabetic"},
          "encoding": {"x": {"value": 845}, "y": {"value": 49}, "text": {"field": "date"}}}
      ]
    }
  ]
}
